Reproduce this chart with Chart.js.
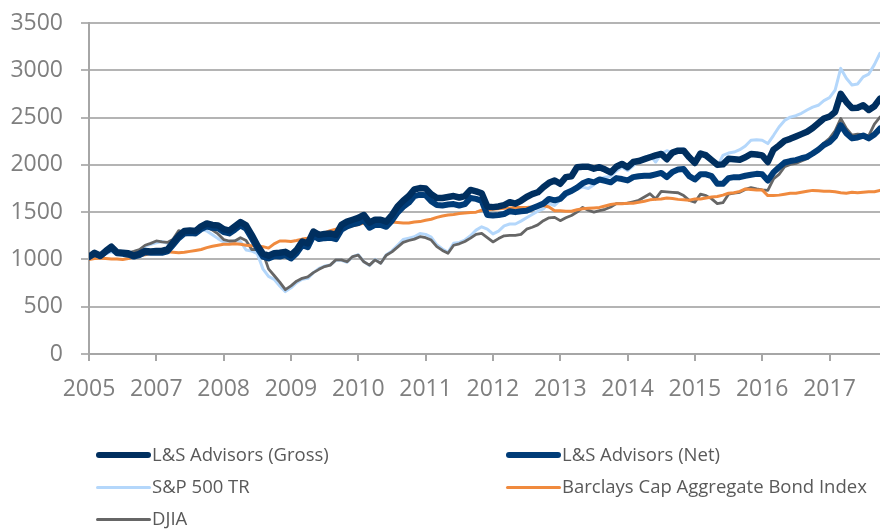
<!DOCTYPE html>
<html>
<head>
<meta charset="utf-8">
<script src="https://cdn.jsdelivr.net/npm/chart.js@4"></script>
<style>
  html, body { margin: 0; padding: 0; background: #fff; }
  #wrap { position: relative; width: 880px; height: 531px; overflow: hidden; }
  canvas { position: absolute; left: 0; top: 0; }
  .lg { position: absolute; font-family: "Open Sans", sans-serif; font-size: 18.5px; color: #595959; white-space: nowrap; line-height: 22px; }
  .sw { position: absolute; border-radius: 4px; }
</style>
</head>
<body>
<div id="wrap">
  <canvas id="c" width="880" height="531"></canvas>
  <div id="legend"></div>
</div>
<script>
const yearLabels = ['2005','2007','2008','2009','2010','2011','2012','2013','2014','2015','2016','2017'];
const yTicks = [0, 500, 1000, 1500, 2000, 2500, 3000, 3500];
const seriesNames = ['L&S Advisors (Gross)', 'L&S Advisors (Net)', 'S&P 500 TR', 'Barclays Cap Aggregate Bond Index', 'DJIA'];

const gross = [1030,1070,1040,1090,1135,1075,1070,1065,1040,1060,1090,1085,1090,1090,1105,1180,1250,1300,1305,1300,
1350,1380,1365,1360,1320,1305,1350,1395,1360,1260,1150,1060,1040,1065,1070,1080,1045,1100,1190,1170,
1295,1260,1270,1275,1260,1365,1400,1420,1440,1470,1390,1420,1420,1400,1470,1560,1620,1670,1740,1755,
1750,1690,1650,1650,1660,1670,1655,1670,1735,1720,1700,1560,1553,1560,1575,1605,1590,1620,1660,1690,
1710,1765,1810,1835,1800,1870,1880,1975,1980,1980,1960,1975,1950,1920,1980,2010,1975,2030,2040,2060,
2080,2100,2115,2060,2130,2150,2150,2080,2020,2120,2100,2050,2000,2005,2065,2060,2055,2080,2115,2110,
2100,2030,2160,2205,2255,2275,2300,2325,2350,2390,2440,2490,2510,2560,2750,2665,2600,2605,2630,2580,
2620,2700];

const net = [1025,1060,1035,1080,1120,1065,1060,1050,1030,1045,1075,1070,1072,1070,1085,1155,1225,1275,1280,1275,
1320,1350,1335,1330,1290,1275,1315,1360,1325,1225,1120,1030,1010,1035,1030,1045,1010,1065,1150,1130,
1250,1215,1225,1230,1215,1315,1350,1370,1385,1415,1335,1365,1365,1345,1410,1495,1555,1600,1670,1685,
1680,1615,1575,1570,1580,1585,1570,1585,1650,1640,1620,1470,1465,1470,1480,1510,1500,1510,1515,1540,
1565,1590,1640,1625,1640,1700,1725,1760,1805,1830,1815,1845,1830,1815,1860,1850,1835,1870,1880,1885,
1885,1900,1915,1870,1925,1950,1955,1880,1845,1900,1900,1880,1800,1800,1860,1870,1870,1885,1895,1905,
1900,1835,1920,1975,2025,2040,2050,2070,2085,2120,2160,2210,2240,2300,2420,2335,2280,2290,2310,2280,
2320,2385];

const sp500 = [1020,1040,1030,1060,1080,1060,1055,1060,1080,1100,1140,1160,1175,1190,1170,1200,1270,1265,1270,1310,
1320,1300,1260,1220,1185,1175,1200,1190,1100,1090,1060,900,820,790,720,660,700,755,790,800,
860,905,930,940,990,990,970,1030,1050,975,935,1000,960,1050,1090,1150,1210,1225,1240,1275,
1265,1235,1155,1110,1075,1170,1180,1205,1250,1310,1345,1320,1270,1300,1355,1375,1375,1405,1440,1475,
1510,1535,1590,1570,1630,1670,1710,1745,1765,1750,1790,1850,1870,1880,1935,1975,1940,1990,2045,2080,
2100,2030,2115,2150,2130,2165,2170,2065,2030,2085,2125,2060,1980,2100,2125,2135,2160,2200,2260,2265,
2260,2225,2310,2400,2470,2505,2520,2545,2580,2610,2630,2680,2710,2790,3020,2915,2845,2855,2930,2960,
3060,3180];

const bond = [1000,1010,1015,1010,1005,1005,1000,1010,1025,1040,1050,1065,1070,1075,1080,1075,1070,1075,1085,1095,
1105,1125,1140,1150,1160,1160,1165,1160,1150,1145,1140,1135,1120,1165,1195,1195,1190,1200,1215,1225,
1245,1260,1280,1305,1320,1335,1345,1355,1370,1385,1385,1400,1415,1420,1395,1390,1385,1385,1395,1400,
1415,1425,1445,1460,1470,1475,1485,1490,1495,1500,1520,1525,1530,1535,1540,1545,1550,1550,1550,1555,
1565,1570,1555,1515,1515,1510,1510,1525,1535,1540,1545,1550,1565,1580,1590,1590,1595,1595,1605,1615,
1630,1635,1640,1650,1645,1635,1630,1625,1640,1640,1650,1660,1665,1680,1700,1705,1720,1745,1740,1735,
1735,1675,1675,1680,1690,1700,1700,1710,1720,1730,1725,1720,1720,1715,1705,1700,1710,1705,1710,1715,
1715,1730];

const djia = [1025,1050,1055,1075,1095,1070,1070,1070,1085,1105,1150,1170,1195,1185,1180,1215,1305,1285,1285,1285,
1320,1340,1310,1270,1210,1195,1195,1230,1200,1105,1105,1070,900,830,760,680,720,770,800,815,
860,895,925,940,995,995,975,1030,1045,975,940,995,960,1045,1080,1130,1180,1200,1215,1240,
1230,1205,1135,1095,1065,1150,1165,1190,1225,1265,1275,1230,1185,1220,1250,1255,1255,1265,1320,1340,
1365,1410,1440,1445,1410,1440,1465,1500,1550,1520,1500,1515,1530,1555,1590,1590,1595,1610,1625,1660,
1695,1640,1720,1715,1710,1705,1675,1625,1605,1690,1675,1640,1590,1600,1690,1700,1710,1740,1760,1745,
1735,1730,1850,1900,1980,2005,2015,2040,2065,2120,2170,2230,2280,2360,2490,2385,2315,2325,2320,2310,
2430,2505];

const colors = ['#002f5f', '#003c78', '#b4d7fb', '#f08a3e', '#666666'];
const widths = [6.5, 6, 3, 3, 2.8];
const seriesData = [gross, net, sp500, bond, djia];

const toXY = arr => arr.map((v, i) => ({ x: i, y: v }));
const drawOrder = [2, 4, 3, 1, 0];

const datasets = seriesData.map((arr, k) => ({
  label: seriesNames[k],
  data: toXY(arr),
  borderColor: colors[k],
  backgroundColor: colors[k],
  borderWidth: widths[k],
  pointRadius: 0,
  tension: 0,
  fill: false,
  borderJoinStyle: 'round',
  borderCapStyle: 'round',
  order: drawOrder.indexOf(k) * -1 + 10
}));

const axisGray = '#a6a6a6';
const tickFont = { family: '"Open Sans", sans-serif', size: 23 };

new Chart(document.getElementById('c'), {
  type: 'line',
  data: { datasets },
  options: {
    responsive: false,
    animation: false,
    events: [],
    layout: { padding: { top: 23, right: 0, bottom: 120, left: 0 } },
    plugins: { legend: { display: false }, tooltip: { enabled: false } },
    scales: {
      x: {
        type: 'linear',
        min: 0,
        max: gross.length - 1,
        afterFit: s => { s.height = 57; s.paddingLeft = 0; s.paddingRight = 0; },
        afterBuildTicks: s => {
          s.ticks = yearLabels.map((_, i) => ({ value: i * 12 }));
        },
        ticks: {
          autoSkip: false,
          maxRotation: 0,
          color: '#7f7f7f',
          font: tickFont,
          padding: 15,
          callback: v => yearLabels[Math.round(v / 12)]
        },
        grid: { drawOnChartArea: false, drawTicks: true, tickLength: 7, color: axisGray, lineWidth: 2 },
        border: { display: true, color: axisGray, width: 2 }
      },
      y: {
        min: 0,
        max: 3500,
        afterFit: s => { s.width = 89; s.paddingTop = 0; s.paddingBottom = 0; },
        afterBuildTicks: s => { s.ticks = yTicks.map(v => ({ value: v })); },
        ticks: { color: '#7f7f7f', font: tickFont, padding: 18, callback: v => String(v) },
        grid: { color: '#b4b4b4', lineWidth: 2, tickLength: 8, drawTicks: true },
        border: { display: true, color: axisGray, width: 2 }
      }
    }
  }
});

const legendPos = [
  { x: 96, y: 455 }, { x: 506, y: 455 },
  { x: 96, y: 487 }, { x: 506, y: 487 },
  { x: 96, y: 519 }
];
const lg = document.getElementById('legend');
seriesNames.forEach((name, k) => {
  const p = legendPos[k];
  const h = k < 2 ? 6 : 3;
  const sw = document.createElement('div');
  sw.className = 'sw';
  sw.style.left = p.x + 'px';
  sw.style.top = (p.y - h / 2) + 'px';
  sw.style.width = '55px';
  sw.style.height = h + 'px';
  sw.style.background = colors[k];
  lg.appendChild(sw);
  const t = document.createElement('div');
  t.className = 'lg';
  t.style.left = (p.x + 56) + 'px';
  t.style.top = (p.y - 12) + 'px';
  t.textContent = name;
  lg.appendChild(t);
});
</script>
</body>
</html>
